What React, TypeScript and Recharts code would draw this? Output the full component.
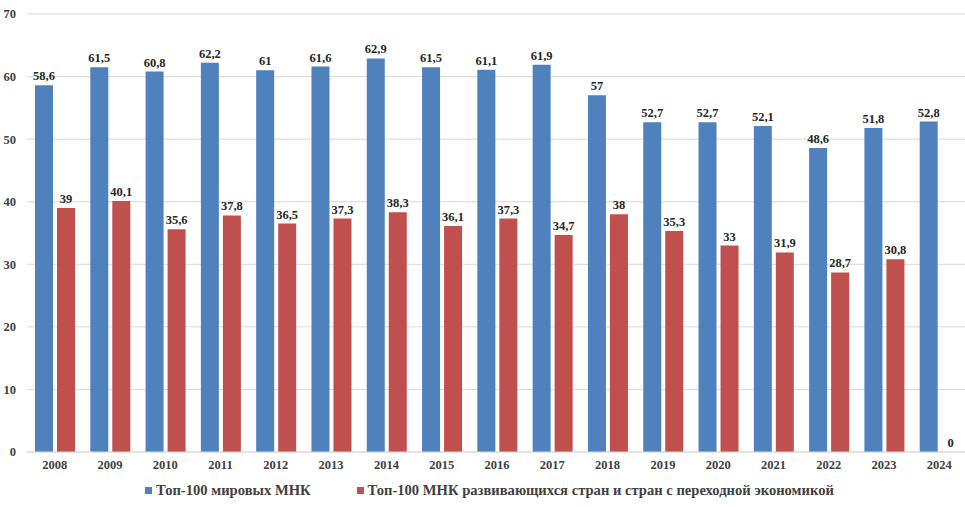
import { Bar, BarChart, CartesianGrid, LabelList, Legend, XAxis, YAxis } from "recharts";

const years = ["2008", "2009", "2010", "2011", "2012", "2013", "2014", "2015", "2016", "2017", "2018", "2019", "2020", "2021", "2022", "2023", "2024"];
const worldTop = [58.6, 61.5, 60.8, 62.2, 61, 61.6, 62.9, 61.5, 61.1, 61.9, 57, 52.7, 52.7, 52.1, 48.6, 51.8, 52.8];
const developingTop = [39, 40.1, 35.6, 37.8, 36.5, 37.3, 38.3, 36.1, 37.3, 34.7, 38, 35.3, 33, 31.9, 28.7, 30.8, 0];
const yTicks = [0, 10, 20, 30, 40, 50, 60, 70];

const seriesNames = ["Топ-100 мировых МНК", "Топ-100 МНК развивающихся стран и стран с переходной экономикой"];
const colors = ["#4F81BD", "#C0504D"];

const data = years.map((year, i) => ({ year, world: worldTop[i], developing: developingTop[i] }));

const font = "'Liberation Serif', 'Times New Roman', serif";
const fmt = (v: any) => String(v).replace(".", ",");
// keep zero-valued bars in the layout so their "0" label is still drawn
const keepZero = (v: any) => (v === 0 ? 0.001 : 0);

const labelStyle = { fontFamily: font, fontWeight: 700, fontSize: 12.5, fill: "#262626" };

function LegendContent() {
  return (
    <div style={{ display: "flex", justifyContent: "center", alignItems: "center", fontFamily: font, fontWeight: 700, fontSize: 14.6, color: "#404040", position: "relative", left: 6, lineHeight: "20px" }}>
      {seriesNames.map((name, i) => (
        <div key={name} style={{ display: "flex", alignItems: "center", marginRight: i === 0 ? 46 : 0 }}>
          <span style={{ display: "inline-block", width: 7, height: 7, background: colors[i], marginRight: 4 }} />
          <span>{name}</span>
        </div>
      ))}
    </div>
  );
}

export default function App() {
  return (
    <div style={{ position: "absolute", left: 0, top: 0, width: 965, height: 507, background: "#fff", overflow: "hidden" }}>
      <BarChart width={965} height={507} data={data} margin={{ top: 14, right: -2, left: 0, bottom: 7 }} barSize={18} barGap={4}>
        <CartesianGrid vertical={false} stroke="#D9D9D9" />
        <XAxis
          dataKey="year"
          axisLine={{ stroke: "#D9D9D9" }}
          tickLine={false}
          tickMargin={2}
          height={28}
          tick={{ fontFamily: font, fontWeight: 700, fontSize: 12.5, fill: "#404040" }}
        />
        <YAxis
          domain={[0, 70]}
          ticks={yTicks}
          axisLine={false}
          tickLine={false}
          width={27}
          tickMargin={5}
          tick={{ fontFamily: font, fontWeight: 700, fontSize: 12.5, fill: "#404040" }}
        />
        <Legend verticalAlign="bottom" height={20} content={<LegendContent />} />
        <Bar dataKey="world" name={seriesNames[0]} fill={colors[0]} isAnimationActive={false}>
          <LabelList dataKey="world" position="top" offset={5} formatter={fmt} style={labelStyle} />
        </Bar>
        <Bar dataKey="developing" name={seriesNames[1]} fill={colors[1]} minPointSize={keepZero} isAnimationActive={false}>
          <LabelList dataKey="developing" position="top" offset={5} formatter={fmt} style={labelStyle} />
        </Bar>
      </BarChart>
    </div>
  );
}
